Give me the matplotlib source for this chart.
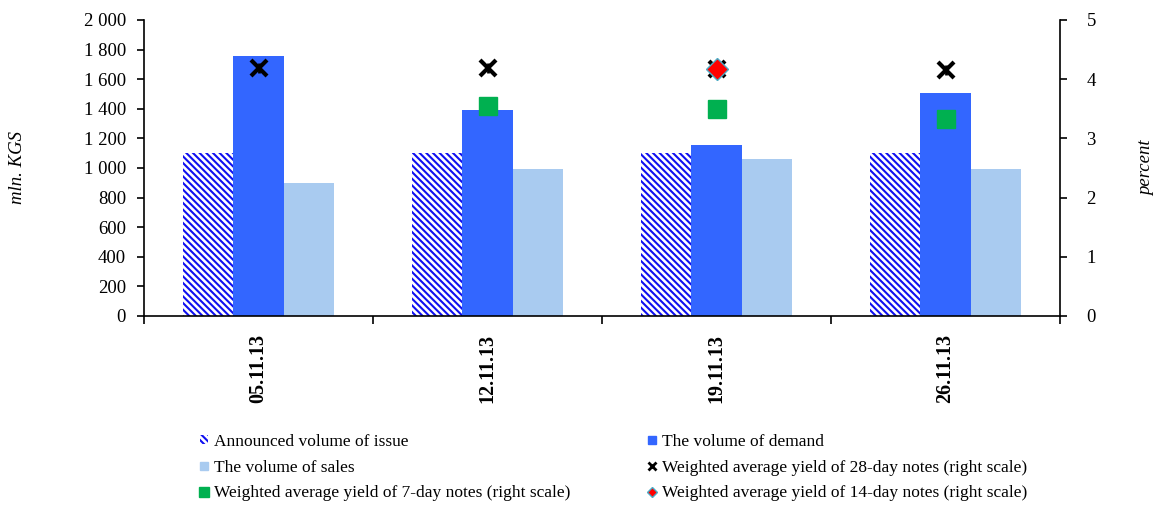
import matplotlib.pyplot as plt
import numpy as np
from matplotlib.patches import Patch
from matplotlib.lines import Line2D
from matplotlib.ticker import FuncFormatter

plt.rcParams['font.family'] = ['Liberation Serif', 'DejaVu Serif']
plt.rcParams['hatch.linewidth'] = 1.5

dates = ["05.11.13", "12.11.13", "19.11.13", "26.11.13"]
announced = [1100, 1100, 1100, 1100]
demand = [1760, 1392, 1155, 1505]
sales = [900, 993, 1060, 993]
yield_28 = [4.19, 4.19, 4.18, 4.16]
yield_7 = [np.nan, 3.54, 3.50, 3.33]
yield_14 = [np.nan, np.nan, 4.17, np.nan]

c_hatch = "#1010F0"
c_demand = "#3366FF"
c_sales = "#A9CBF0"
c_green = "#00B050"
c_red = "#FF0000"
hatch = "\\" * 5

fig = plt.figure(figsize=(11.54, 5.07), dpi=100)
ax = fig.add_axes([144 / 1154, 1 - 316 / 507, (1060 - 144) / 1154, (316 - 20) / 507])
ax2 = ax.twinx()

x = np.arange(len(dates))
w = 0.22
ax.bar(x - w, announced, w, color="white", edgecolor=c_hatch, linewidth=0,
       hatch=hatch, zorder=2)
ax.bar(x, demand, w, color=c_demand, linewidth=0, zorder=2)
ax.bar(x + w, sales, w, color=c_sales, linewidth=0, zorder=2)

# markers on right scale
ax2.plot(x, yield_7, ls="none", marker="s", ms=12.5, color=c_green, mec=c_green)
ax2.plot(x, yield_28, ls="none", marker="x", ms=12, mew=3, color="black")
ax2.plot(x, yield_28, ls="none", marker="|", ms=7, mew=2, color="black")
ax2.plot(x, yield_14, ls="none", marker="D", ms=11, color=c_red, mec="#4BACC6", mew=1)

ax.set_xlim(-0.5, len(dates) - 0.5)
ax.set_ylim(0, 2000)
ax.set_yticks(np.arange(0, 2001, 200))
ax.yaxis.set_major_formatter(FuncFormatter(lambda v, p: f"{int(v):,}".replace(",", " ")))
ax2.set_ylim(0, 5)
ax2.set_yticks(np.arange(0, 6, 1))

ax.set_xticks(x)
ax.set_xticklabels(dates, rotation=90, fontweight="bold", fontsize=14.5)
ax.set_xticks(np.arange(-0.5, len(dates), 1), minor=True)
ax.tick_params(axis="x", which="major", length=0, pad=13)
ax.tick_params(axis="x", which="minor", length=6, width=1.2, direction="out")
ax.tick_params(axis="y", length=5, width=1.2, labelsize=13.5, direction="out", pad=8)
ax2.tick_params(axis="y", length=5, width=1.2, labelsize=13.5, direction="out", pad=14)

for a in (ax, ax2):
    a.spines["top"].set_visible(False)
    for s in ("left", "right", "bottom"):
        a.spines[s].set_linewidth(1.2)
ax.spines["right"].set_visible(False)
ax2.spines["left"].set_visible(False)
ax2.spines["bottom"].set_visible(False)

fig.text(18 / 1154, 1 - 168 / 507, "mln. KGS", rotation=90, style="italic",
         fontsize=13.5, ha="center", va="center")
fig.text(1147 / 1154, 1 - 168 / 507, "percent", rotation=90, style="italic",
         fontsize=13.5, ha="center", va="center")

h_ann = Patch(facecolor="white", edgecolor=c_hatch, hatch=hatch, linewidth=0)
h_dem = Line2D([], [], ls="none", marker="s", ms=6, color=c_demand)
h_sal = Line2D([], [], ls="none", marker="s", ms=6, color=c_sales)
h_28 = Line2D([], [], ls="none", marker="x", ms=6, mew=2, color="black")
h_7 = Line2D([], [], ls="none", marker="s", ms=7, color=c_green)
h_14 = Line2D([], [], ls="none", marker="D", ms=5, color=c_red, mec="#4BACC6")

lkw = dict(frameon=False, fontsize=12.5, handlelength=0.5, handleheight=0.5,
           handletextpad=0.35, labelspacing=0.57, borderpad=0, loc="upper left")
leg1 = fig.legend([h_ann, h_sal, h_7],
                  ["Announced volume of issue", "The volume of sales",
                   "Weighted average yield of 7-day notes (right scale)"],
                  bbox_to_anchor=(191 / 1154, 1 - 425 / 507), **lkw)
leg2 = fig.legend([h_dem, h_28, h_14],
                  ["The volume of demand",
                   "Weighted average yield of 28-day notes (right scale)",
                   "Weighted average yield of 14-day notes (right scale)"],
                  bbox_to_anchor=(639 / 1154, 1 - 425 / 507), **lkw)

fig.savefig("out.png", dpi=100)
